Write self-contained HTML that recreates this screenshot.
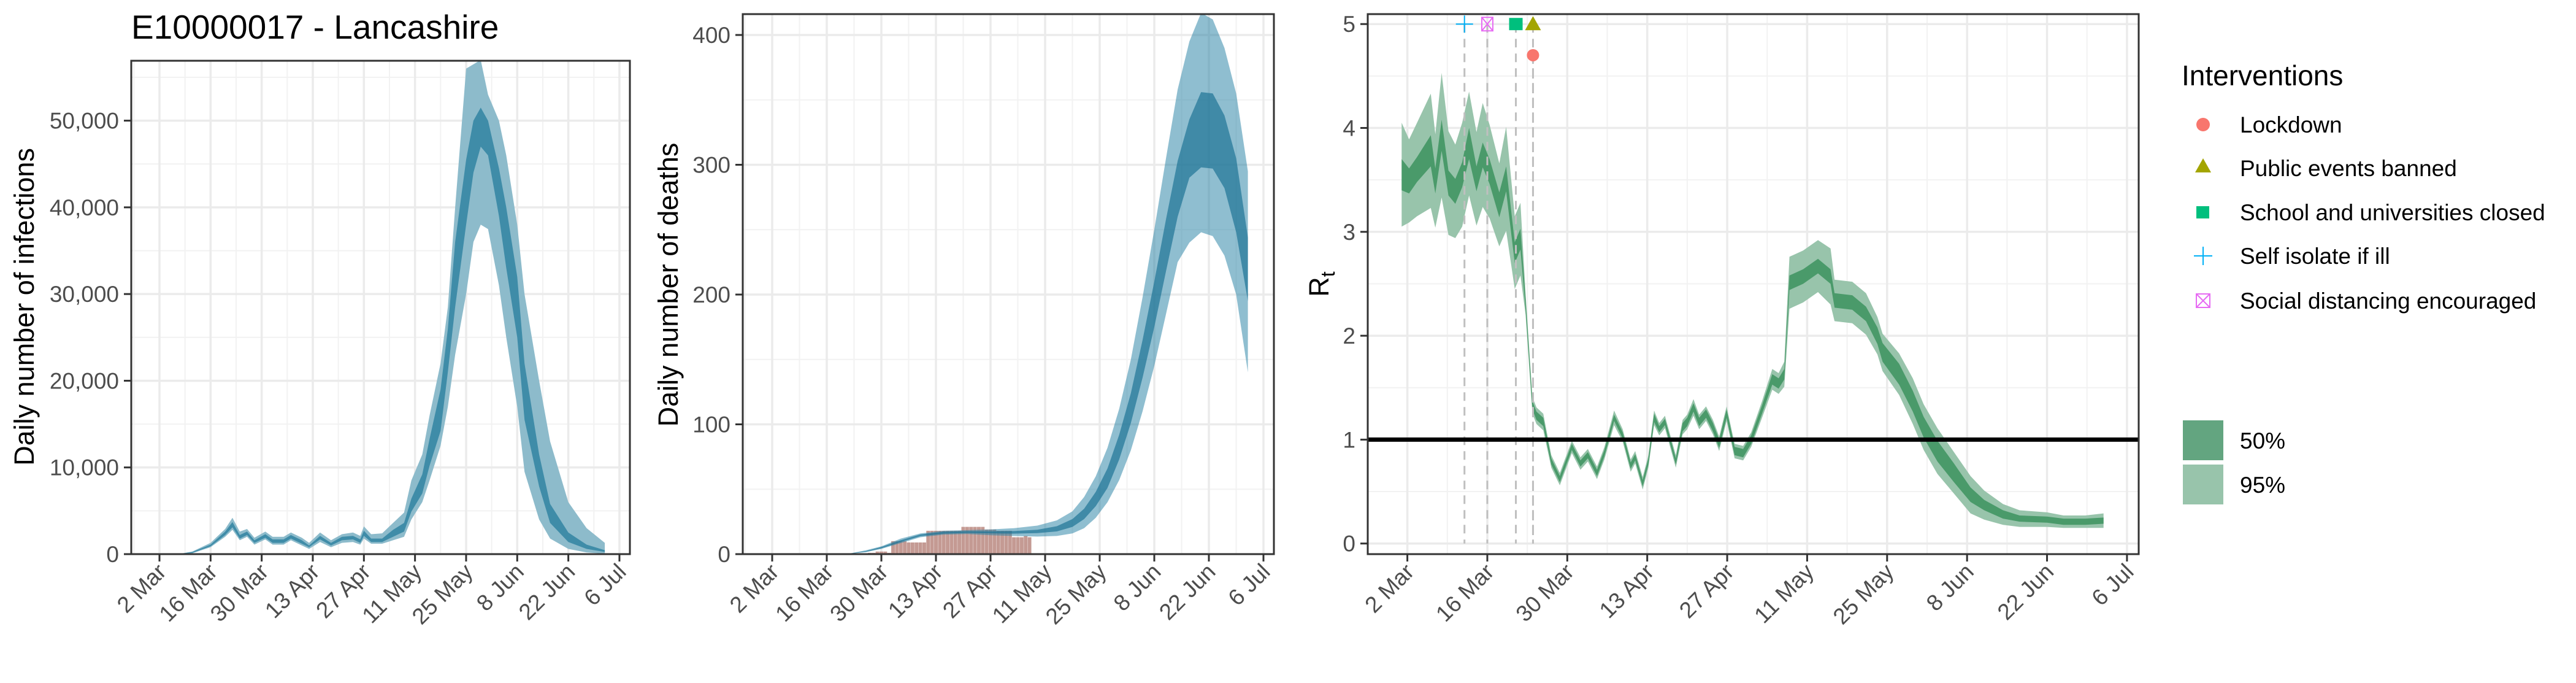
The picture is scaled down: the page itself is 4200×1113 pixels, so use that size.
<!DOCTYPE html>
<html><head><meta charset="utf-8"><style>
html,body{margin:0;padding:0;background:#fff;}
svg{display:block;font-family:"Liberation Sans",Arial,sans-serif;}
</style></head><body>
<svg id="chart" xmlns="http://www.w3.org/2000/svg" width="4200" height="1113" viewBox="0 0 4200 1113">
<rect x="0" y="0" width="4200" height="1113" fill="#fff"/>
<text x="214" y="63" font-size="55" fill="#000">E10000017 - Lancashire</text>
<text transform="translate(55,500) rotate(-90)" text-anchor="middle" font-size="45" fill="#000">Daily number of infections</text>
<text transform="translate(1105,464) rotate(-90)" text-anchor="middle" font-size="45" fill="#000">Daily number of deaths</text>
<text transform="translate(2166,463) rotate(-90)" text-anchor="middle" font-size="45" fill="#000">R<tspan font-size="32" dy="10">t</tspan></text>
<g>
<text x="3557" y="139" font-size="46" fill="#000">Interventions</text>
<circle cx="3592" cy="203" r="11" fill="#F8766D"/>
<text x="3652" y="216" font-size="37">Lockdown</text>
<polygon points="3579,281 3605,281 3592,258" fill="#A3A500"/>
<text x="3652" y="287" font-size="37">Public events banned</text>
<rect x="3581" y="336" width="21" height="20" fill="#00BF7D"/>
<text x="3652" y="359" font-size="37">School and universities closed</text>
<path d="M3577 417 H3607 M3592 402 V432" stroke="#00B0F6" stroke-width="2" fill="none"/>
<text x="3652" y="430" font-size="37">Self isolate if ill</text>
<path d="M3581 479 H3603 V501 H3581 Z M3581 479 L3603 501 M3603 479 L3581 501" stroke="#E76BF3" stroke-width="2" fill="none"/>
<text x="3652" y="503" font-size="37">Social distancing encouraged</text>
<rect x="3559" y="685" width="66" height="65" fill="#63a580"/>
<text x="3652" y="731" font-size="37">50%</text>
<rect x="3559" y="757" width="66" height="65" fill="#98c4ab"/>
<text x="3652" y="803" font-size="37">95%</text>
</g>
</svg>
<script>
// ---------- data ----------
const tickLabels = ["2 Mar","16 Mar","30 Mar","13 Apr","27 Apr","11 May","25 May","8 Jun","22 Jun","6 Jul"];
const tickDays = [0,14,28,42,56,70,84,98,112,126];

// infections (thousands)
const infDays = [5,9,14,18,20,22,24,26,29,31,34,36,39,41,44,47,50,53,55,56,58,61,64,67,69,72,74,77,79,81,84,86,88,90,93,95,98,100,104,107,112,117,122];
const infLo95 = [0,0.1,0.8,2.0,2.8,1.6,2.0,1.1,1.7,1.1,1.1,1.6,1.0,0.6,1.4,0.8,1.3,1.4,1.1,1.8,1.2,1.2,1.6,2.0,4.0,6.0,8.5,12.5,17.0,23.0,30.0,36.0,38.0,37.5,31.0,25.0,17.0,9.5,4.0,1.8,0.6,0.2,0.05];
const infLo50 = [0,0.15,0.9,2.2,3.1,1.8,2.2,1.3,1.9,1.3,1.3,1.8,1.2,0.8,1.7,1.0,1.6,1.7,1.3,2.1,1.4,1.4,2.0,2.6,4.9,7.0,10.2,14.2,21.0,28.5,38.0,44.0,47.0,46.0,39.0,33.0,25.0,15.5,7.8,3.6,1.4,0.6,0.25];
const infHi50 = [0,0.25,1.1,2.6,3.7,2.2,2.6,1.6,2.3,1.7,1.7,2.2,1.6,1.0,2.1,1.3,2.0,2.1,1.7,2.7,1.8,1.8,2.8,3.6,6.4,9.2,13.3,19.0,26.0,36.0,45.5,50.0,51.5,50.0,44.5,40.0,32.0,22.0,11.5,5.8,2.5,1.1,0.45];
const infHi95 = [0,0.3,1.3,2.9,4.2,2.6,2.9,1.9,2.6,2.0,2.0,2.5,1.9,1.3,2.5,1.6,2.3,2.5,2.1,3.2,2.3,2.4,3.6,4.8,8.5,11.5,16.0,22.0,28.5,40.0,56.0,56.5,57.0,53.0,50.0,46.0,38.0,30.0,20.0,13.0,6.0,3.0,1.3];
const infYTicks = [0,10000,20000,30000,40000,50000];
const infYLabels = ["0","10,000","20,000","30,000","40,000","50,000"];

// deaths
const dthDays = [19,24,28,33,38,44,50,56,62,68,73,77,80,83,86,89,92,95,98,101,104,107,110,113,116,119,122];
const dthLo95 = [0,1.5,4,8.5,13,15,15.5,14.5,14,13.5,14,16,20,28,40,57,80,110,145,185,225,240,248,245,230,200,140];
const dthLo50 = [0,1.8,4.5,9.3,13.8,15.8,16.3,16,15.8,16.2,17.5,21,27,37,51,73,101,136,175,218,260,290,298,297,282,248,195];
const dthHi50 = [0,2.3,5.5,10.8,15.2,17.2,17.7,17.6,17.8,18.8,21.5,27,35,48,66,92,124,165,210,258,303,335,356,355,338,305,244];
const dthHi95 = [0,3,6,12,16,18,18.5,19,20,22,26,33,44,60,82,112,150,198,250,305,358,395,417,412,390,355,295];
const obsDeathStart = 25;
const obsDeaths = [1,1,2,2,2,1,10,10,10,10,9,9,9,9,9,18,18,18,18,18,18,18,18,18,21,21,21,21,21,21,19,19,19,18,18,18,18,13,13,13,14,13];
const dthYTicks = [0,100,200,300,400];
const dthYLabels = ["0","100","200","300","400"];

// Rt
const rtDays = [-1,0.3,1.7,4.1,4.9,6,7.2,8.4,9.6,10.8,12.1,13.2,14.4,16.1,17.3,18.8,19.8,20.7,21.9,22.6,23.8,25.2,26.7,28.8,30.3,31.6,33.2,34.5,36.2,37.7,39.1,39.9,41.2,42.2,43.2,44.1,45.1,47,48.2,49,50.1,51.1,52.3,53.5,54.6,55.9,57.3,58.8,60.2,62.1,63.9,65,66,66.9,69.3,71.9,74.1,74.8,77.9,80.3,82.3,83.2,86.1,88.5,90.4,92.8,95.7,98.6,101,104.3,107.2,112,114.9,118.7,121.9];
const rtMed = [3.55,3.49,3.6,3.78,3.49,3.93,3.47,3.39,3.55,3.85,3.51,3.74,3.58,3.26,3.51,2.8,2.93,2.3,1.33,1.23,1.17,0.79,0.62,0.93,0.77,0.85,0.68,0.87,1.21,1.04,0.75,0.83,0.58,0.79,1.21,1.10,1.17,0.79,1.12,1.17,1.31,1.17,1.25,1.12,0.96,1.25,0.89,0.87,1.0,1.29,1.58,1.54,1.63,2.51,2.57,2.67,2.57,2.34,2.32,2.21,2.0,1.84,1.63,1.37,1.12,0.89,0.68,0.47,0.37,0.28,0.24,0.23,0.21,0.21,0.22];
const rtHalf50 = [.15,.12,.12,.15,.12,.15,.12,.12,.12,.15,.12,.12,.12,.12,.12,.1,.1,.05,.04,.04,.04,.03,.03,.03,.03,.03,.03,.03,.03,.03,.03,.03,.03,.03,.04,.03,.03,.03,.04,.04,.04,.04,.04,.04,.04,.04,.04,.04,.04,.04,.05,.05,.05,.07,.07,.07,.07,.07,.07,.07,.08,.09,.1,.1,.1,.1,.09,.07,.05,.04,.03,.03,.03,.03,.03];
const rtHalf95 = [.5,.4,.45,.55,.45,.6,.5,.45,.5,.5,.45,.5,.45,.4,.5,.35,.35,.1,.08,.08,.08,.06,.06,.06,.06,.06,.06,.06,.07,.06,.06,.06,.06,.06,.07,.06,.06,.06,.07,.07,.08,.07,.07,.07,.07,.07,.07,.07,.07,.08,.1,.1,.12,.25,.25,.25,.27,.2,.2,.2,.18,.18,.2,.22,.22,.22,.2,.18,.14,.1,.08,.07,.06,.06,.07];
const rtYTicks = [0,1,2,3,4,5];
const rtYLabels = ["0","1","2","3","4","5"];
const intNames = ["lockdown","public-events-banned","school-closed","self-isolate","social-distancing"];
const intDays = [22,22,19,10,14];
const intY = [4.7,5,5,5,5];

// ---------- drawing ----------
const NS = "http://www.w3.org/2000/svg";
const svg = document.getElementById('chart');
function mk(tag, attrs, parent){
  const e = document.createElementNS(NS, tag);
  for (const k in attrs) e.setAttribute(k, attrs[k]);
  (parent || svg).appendChild(e);
  return e;
}
const panels = [
  {id:'infections', x0:214, x1:1027, y0:99, y1:903, xs:d=>260+d*5.952, ys:v=>903-v*706.4/50000, ymin:[5000,15000,25000,35000,45000,55000], yt:infYTicks, yl:infYLabels},
  {id:'deaths', x0:1211, x1:2077, y0:23, y1:903, xs:d=>1259+d*6.357, ys:v=>903-v*2.115, ymin:[50,150,250,350], yt:dthYTicks, yl:dthYLabels},
  {id:'rt', x0:2230, x1:3487, y0:23, y1:903, xs:d=>2294.6+d*9.312, ys:v=>885.7-v*169.3, ymin:[0.5,1.5,2.5,3.5,4.5], yt:rtYTicks, yl:rtYLabels}
];
panels.forEach((p,i)=>{
  const cp = mk('clipPath',{id:'clip'+i});
  mk('rect',{x:p.x0,y:p.y0,width:p.x1-p.x0,height:p.y1-p.y0},cp);
  const g = mk('g',{'clip-path':'url(#clip'+i+')'});
  
  
  p.g = g;
  for (let d=-7; d<=133; d+=14){
    const x = p.xs(d);
    const l = mk('line',{x1:x,x2:x,y1:p.y0,y2:p.y1,stroke:'#f2f2f2','stroke-width':2},g);
    
    
  }
  p.ymin.forEach(v=>{
    const y = p.ys(v);
    const l = mk('line',{x1:p.x0,x2:p.x1,y1:y,y2:y,stroke:'#f2f2f2','stroke-width':2},g);
    
    
  });
  tickDays.forEach(d=>{
    const x = p.xs(d);
    const l = mk('line',{x1:x,x2:x,y1:p.y0,y2:p.y1,stroke:'#ebebeb','stroke-width':3.5},g);
    
    
  });
  p.yt.forEach(v=>{
    const y = p.ys(v);
    const l = mk('line',{x1:p.x0,x2:p.x1,y1:y,y2:y,stroke:'#ebebeb','stroke-width':3.5},g);
    
    
  });
});
function band(p, xs, lo, hi, fill, name, scale){
  scale = scale || 1;
  let pts = [];
  for (let i=0;i<xs.length;i++) pts.push(p.xs(xs[i]).toFixed(1)+','+p.ys(hi[i]*scale).toFixed(1));
  for (let i=xs.length-1;i>=0;i--) pts.push(p.xs(xs[i]).toFixed(1)+','+p.ys(lo[i]*scale).toFixed(1));
  const e = mk('polygon',{points:pts.join(' '),fill:fill},p.g);
  
  
}
band(panels[0], infDays, infLo95, infHi95, '#8dbbcb', 'infections-95-band', 1000);
band(panels[0], infDays, infLo50, infHi50, '#3f8ca8', 'infections-50-band', 1000);
const P2 = panels[1];
obsDeaths.forEach((v,i)=>{
  const d = obsDeathStart + i;
  const x = P2.xs(d-0.47), w = P2.xs(d+0.47)-x;
  const r = mk('rect',{x:x,y:P2.ys(v),width:w,height:P2.ys(0)-P2.ys(v),fill:'#c49a93'},P2.g);
  
  
});
band(P2, dthDays, dthLo95, dthHi95, 'rgba(40,130,165,0.52)', 'deaths-95-band');
band(P2, dthDays, dthLo50, dthHi50, 'rgba(30,115,150,0.7)', 'deaths-50-band');
const P3 = panels[2];
const rtLo95 = rtMed.map((m,i)=>m-rtHalf95[i]), rtHi95 = rtMed.map((m,i)=>m+rtHalf95[i]);
const rtLo50 = rtMed.map((m,i)=>m-rtHalf50[i]), rtHi50 = rtMed.map((m,i)=>m+rtHalf50[i]);
band(P3, rtDays, rtLo95, rtHi95, '#98c4ab', 'rt-95-band');
band(P3, rtDays, rtLo50, rtHi50, '#4a9a6a', 'rt-50-band');
intDays.forEach((d,i)=>{
  const x = P3.xs(d);
  const l = mk('line',{x1:x,x2:x,y1:P3.ys(intY[i]),y2:P3.ys(0),stroke:'#bfbfbf','stroke-width':3,'stroke-dasharray':'14,10'},P3.g);
  
  
});
const one = mk('line',{x1:P3.x0,x2:P3.x1,y1:P3.ys(1),y2:P3.ys(1),stroke:'#000','stroke-width':7},P3.g);


intDays.forEach((d,i)=>{
  const x = P3.xs(d), y = P3.ys(intY[i]);
  let e;
  if (i===0) e = mk('circle',{cx:x,cy:y,r:10,fill:'#F8766D'});
  else if (i===1) e = mk('polygon',{points:(x-13)+','+(y+10)+' '+(x+13)+','+(y+10)+' '+x+','+(y-13),fill:'#A3A500'});
  else if (i===2) e = mk('rect',{x:x-11,y:y-10,width:22,height:20,fill:'#00BF7D'});
  else if (i===3) e = mk('path',{d:'M'+(x-14)+' '+y+' H'+(x+14)+' M'+x+' '+(y-14)+' V'+(y+14),stroke:'#00B0F6','stroke-width':2,fill:'none'});
  else e = mk('path',{d:'M'+(x-9)+' '+(y-11)+' H'+(x+9)+' V'+(y+11)+' H'+(x-9)+' Z M'+(x-9)+' '+(y-11)+' L'+(x+9)+' '+(y+11)+' M'+(x+9)+' '+(y-11)+' L'+(x-9)+' '+(y+11),stroke:'#E76BF3','stroke-width':2,fill:'none'});
  
  
});
panels.forEach(p=>{
  const b = mk('rect',{x:p.x0,y:p.y0,width:p.x1-p.x0,height:p.y1-p.y0,fill:'none',stroke:'#333','stroke-width':3});
  
  
  tickDays.forEach((d,i)=>{
    const x = p.xs(d);
    const t = mk('line',{x1:x,x2:x,y1:p.y1,y2:p.y1+12,stroke:'#333','stroke-width':3});
    
    
    const lb = mk('text',{transform:'translate('+(x+13)+','+(p.y1+31)+') rotate(-45)','text-anchor':'end','font-size':37,fill:'#4d4d4d'});
    lb.textContent = tickLabels[i];
    
    
  });
  p.yt.forEach((v,i)=>{
    const y = p.ys(v);
    const t = mk('line',{x1:p.x0-12,x2:p.x0,y1:y,y2:y,stroke:'#333','stroke-width':3});
    
    
    const lb = mk('text',{x:p.x0-20,y:y+13,'text-anchor':'end','font-size':37,fill:'#4d4d4d'});
    lb.textContent = p.yl[i];
    
    
  });
});
</script>
</body></html>
